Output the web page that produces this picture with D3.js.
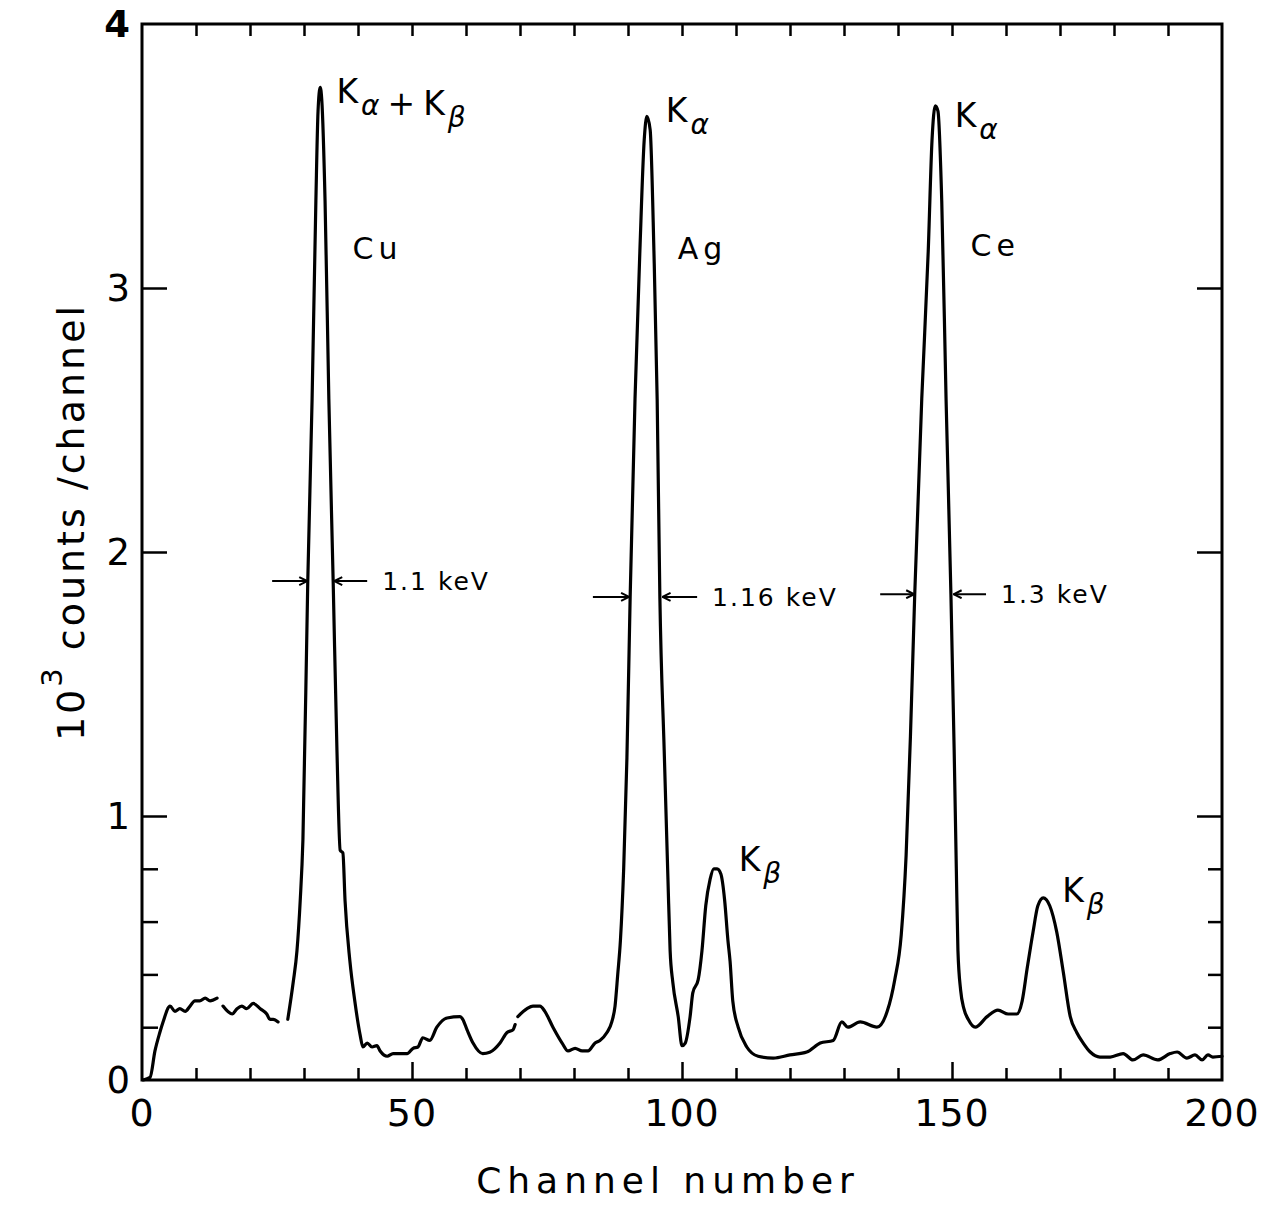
<!DOCTYPE html>
<html>
<head>
<meta charset="utf-8">
<script src="https://cdn.jsdelivr.net/npm/d3@7"></script>
<style>
  body { margin: 0; background: #fff; }
  svg text { font-family: "DejaVu Sans", sans-serif; fill: #000; }
</style>
</head>
<body>
<svg id="chart" width="1273" height="1205"></svg>
<script>
// spectrum trace, null = pen lifted on the original plot
const channel = [
  0.2, 1.5, 2.4, 3.3, 3.9, 5.2, 6.1, 7.0, 8.0, 8.9, 9.8, 10.7, 11.7, 12.6, 13.9,
  14.4,
  15.0, 16.7, 17.6, 18.5, 19.4, 20.6, 21.9, 23.1, 23.7, 24.3, 25.2,
  26.0,
  27.0, 28.0, 28.7, 29.3, 29.8, 30.7, 31.5, 32.2, 32.6, 33.0, 33.3, 33.9, 34.6, 35.4, 36.1,
  36.7, 37.2, 37.6, 38.5, 39.4, 40.4, 40.9, 41.7, 42.6, 43.5, 44.1, 45.4, 46.5, 49.1, 50.2,
  51.1, 52.0, 53.3, 54.6, 56.5, 58.9, 59.4, 60.2, 61.3, 63.1, 64.4, 66.3, 67.6, 68.7, 69.1,
  69.35,
  69.6, 71.3, 72.4, 73.7, 74.6, 76.1, 77.8, 78.9, 80.2, 81.5, 82.6, 83.9, 84.8, 86.1, 87.0,
  87.6, 88.1, 88.6, 89.2, 89.8, 90.4, 91.3, 92.2, 93.0, 93.5, 94.1, 94.8, 95.4, 95.9, 96.7, 97.4,
  97.8, 98.3, 99.3, 100.0, 100.6, 101.5, 102.0, 103.0, 103.7, 104.4, 105.2, 105.9, 106.5,
  107.2, 107.9, 108.5, 108.9, 109.4, 110.4, 112.0, 114.1, 116.9, 120.0, 123.1, 125.6, 128.0,
  129.6, 130.7, 133.0, 136.1, 138.0, 139.4, 140.6, 141.5, 142.3, 143.1, 144.4, 145.6, 146.3,
  146.9, 147.4, 148.1, 148.9, 149.8, 150.4, 150.8, 151.1, 151.6, 152.2, 153.0, 154.3, 156.5,
  158.5, 160.4, 162.0, 163.0, 163.9, 165.0, 165.9, 166.9, 168.1, 169.4, 170.6, 171.9, 173.1,
  174.3, 175.6, 177.4, 179.3, 181.7, 183.5, 185.4, 188.1, 190.4, 191.7, 193.5, 195.0, 196.3,
  197.4, 198.3, 200.0
];
// 10^3 counts per channel
const counts = [
  0.00, 0.01, 0.11, 0.18, 0.22, 0.28, 0.26, 0.27, 0.26, 0.28, 0.30, 0.30, 0.31, 0.30, 0.31,
  null,
  0.28, 0.25, 0.27, 0.28, 0.27, 0.29, 0.27, 0.25, 0.23, 0.23, 0.22,
  null,
  0.23, 0.37, 0.49, 0.68, 0.91, 1.89, 2.58, 3.33, 3.67, 3.76, 3.71, 3.33, 2.58, 1.89, 1.25,
  0.87, 0.86, 0.68, 0.45, 0.30, 0.17, 0.125, 0.14, 0.125, 0.13, 0.11, 0.09, 0.10, 0.10, 0.12,
  0.125, 0.16, 0.15, 0.20, 0.235, 0.24, 0.23, 0.19, 0.14, 0.10, 0.105, 0.14, 0.18, 0.19, 0.21,
  null,
  0.24, 0.27, 0.28, 0.28, 0.26, 0.20, 0.14, 0.11, 0.12, 0.11, 0.11, 0.14, 0.15, 0.18, 0.22,
  0.28, 0.40, 0.53, 0.80, 1.22, 1.83, 2.58, 3.14, 3.56, 3.65, 3.60, 3.14, 2.58, 1.83, 1.25, 0.76,
  0.49, 0.37, 0.24, 0.13, 0.14, 0.24, 0.33, 0.38, 0.49, 0.66, 0.76, 0.80, 0.80,
  0.78, 0.68, 0.53, 0.45, 0.30, 0.20, 0.125, 0.09, 0.083, 0.095, 0.106, 0.14, 0.15,
  0.22, 0.20, 0.22, 0.20, 0.26, 0.38, 0.55, 0.85, 1.30, 1.84, 2.58, 3.14, 3.56,
  3.69, 3.67, 3.33, 2.58, 1.84, 1.25, 0.80, 0.49, 0.34, 0.27, 0.23, 0.20, 0.24,
  0.265, 0.25, 0.25, 0.30, 0.42, 0.56, 0.66, 0.69, 0.66, 0.56, 0.41, 0.24, 0.18,
  0.14, 0.106, 0.087, 0.087, 0.10, 0.076, 0.095, 0.076, 0.10, 0.106, 0.083, 0.095, 0.076,
  0.095, 0.087, 0.09
];

const xTickLabels = [0, 50, 100, 150, 200];
const yTickLabels = [0, 1, 2, 3, 4];

// element names, at [channel, counts]
const elements = [
  {name: "Cu", ch: 43.6, v: 3.11},
  {name: "Ag", ch: 103.8, v: 3.11},
  {name: "Ce", ch: 158.0, v: 3.12}
];
// line labels: main, subscript pairs
const lineLabels = [
  {parts: [["K", "α"], ["+", null], ["K", "β"]], ch: 36.0, v: 3.70},
  {parts: [["K", "α"]], ch: 97.0, v: 3.63},
  {parts: [["K", "α"]], ch: 150.5, v: 3.61},
  {parts: [["K", "β"]], ch: 110.5, v: 0.79},
  {parts: [["K", "β"]], ch: 170.4, v: 0.675}
];
// FWHM markers: arrow tails/tips in channels, level, text
const fwhm = [
  {y: 1.89, l0: 24.1, l1: 30.6, r0: 41.7, r1: 35.6, text: "1.1 keV"},
  {y: 1.83, l0: 83.5, l1: 90.2, r0: 102.8, r1: 96.4, text: "1.16 keV"},
  {y: 1.84, l0: 136.7, l1: 143.0, r0: 156.3, r1: 150.3, text: "1.3 keV"}
];

const svg = d3.select("#chart");
const x = d3.scaleLinear().domain([0, 200]).range([142, 1222]);
const y = d3.scaleLinear().domain([0, 4]).range([1080, 24]);

// arrowhead
svg.append("defs").append("marker")
  .attr("id", "arr")
  .attr("viewBox", "0 0 10 10")
  .attr("refX", 9).attr("refY", 5)
  .attr("markerWidth", 10).attr("markerHeight", 10)
  .attr("markerUnits", "userSpaceOnUse")
  .attr("orient", "auto")
  .append("path")
  .attr("d", "M1,1 L9,5 L1,9")
  .attr("fill", "none")
  .attr("stroke", "#000")
  .attr("stroke-width", 2);

// ticks, all pointing inward
const minorX = d3.range(10, 200, 10);
const gBottom = svg.append("g").attr("transform", `translate(0,${y(0)})`)
  .call(d3.axisBottom(x).tickValues(minorX).tickSize(-12).tickFormat(""));
gBottom.selectAll(".tick line")
  .attr("y2", d => d % 50 === 0 ? -18 : -12);
svg.append("g").attr("transform", `translate(0,${y(4)})`)
  .call(d3.axisTop(x).tickValues(minorX).tickSize(-12).tickFormat(""));

const yMajor = [1, 2, 3];
const yMinor = [0.2, 0.4, 0.6, 0.8];
const gLeft = svg.append("g").attr("transform", `translate(${x(0)},0)`)
  .call(d3.axisLeft(y).tickValues(yMajor.concat(yMinor)).tickSize(-25).tickFormat(""));
gLeft.selectAll(".tick line").attr("x2", d => yMajor.includes(d) ? 25 : 16);
const gRight = svg.append("g").attr("transform", `translate(${x(200)},0)`)
  .call(d3.axisRight(y).tickValues(yMajor.concat(yMinor)).tickSize(-25).tickFormat(""));
gRight.selectAll(".tick line").attr("x2", d => yMajor.includes(d) ? -25 : -14);

svg.selectAll(".domain").remove();
svg.selectAll(".tick line").attr("stroke", "#000").attr("stroke-width", 2.5);

// frame
svg.append("rect")
  .attr("x", x(0)).attr("y", y(4))
  .attr("width", x(200) - x(0)).attr("height", y(0) - y(4))
  .attr("fill", "none").attr("stroke", "#000").attr("stroke-width", 3);

// tick labels
svg.append("g").selectAll("text").data(xTickLabels).join("text")
  .attr("x", d => x(d)).attr("y", y(0) + 46)
  .attr("text-anchor", "middle")
  .attr("font-size", 38)
  .attr("letter-spacing", 1)
  .text(d => d);
svg.append("g").selectAll("text").data(yTickLabels).join("text")
  .attr("x", x(0) - 12).attr("y", d => y(d) + 13)
  .attr("text-anchor", "end")
  .attr("font-size", 37)
  .attr("font-weight", d => d === 4 ? "bold" : "normal")
  .text(d => d);

// axis titles
svg.append("text")
  .attr("x", 668).attr("y", 1193)
  .attr("text-anchor", "middle")
  .attr("font-size", 36)
  .attr("letter-spacing", 6)
  .text("Channel  number");

const yt = svg.append("text")
  .attr("transform", "translate(84,522) rotate(-90)")
  .attr("text-anchor", "middle")
  .attr("font-size", 38)
  .attr("letter-spacing", 3);
yt.append("tspan").text("10");
yt.append("tspan").attr("dy", -22).attr("font-size", 29).text("3");
yt.append("tspan").attr("dy", 22).text("   counts /channel");

// spectrum
const line = d3.line()
  .defined(d => d[1] !== null)
  .x(d => x(d[0]))
  .y(d => y(d[1]))
  .curve(d3.curveMonotoneX);

svg.append("path")
  .datum(channel.map((c, i) => [c, counts[i]]))
  .attr("d", line)
  .attr("fill", "none")
  .attr("stroke", "#000")
  .attr("stroke-width", 3.2)
  .attr("stroke-linejoin", "round")
  .attr("stroke-linecap", "round");

// element names
svg.append("g").selectAll("text").data(elements).join("text")
  .attr("x", d => x(d.ch)).attr("y", d => y(d.v))
  .attr("text-anchor", "middle")
  .attr("font-size", 30)
  .attr("letter-spacing", 5)
  .text(d => d.name);

// line labels with greek subscripts
svg.append("g").selectAll("text").data(lineLabels).join("text")
  .attr("x", d => x(d.ch)).attr("y", d => y(d.v))
  .attr("font-size", 33)
  .each(function(d) {
    const t = d3.select(this);
    d.parts.forEach(([main, sub], i) => {
      t.append("tspan").attr("dx", i ? 8 : 0).attr("font-size", 33).text(main);
      if (sub) {
        t.append("tspan").attr("dx", 3).attr("dy", 12)
          .attr("font-size", 28).attr("font-style", "italic").text(sub);
        t.append("tspan").attr("dy", -12).text("");
      }
    });
  });

// FWHM arrows
const fw = svg.append("g").selectAll("g").data(fwhm).join("g");
fw.append("line")
  .attr("x1", d => x(d.l0)).attr("x2", d => x(d.l1))
  .attr("y1", d => y(d.y)).attr("y2", d => y(d.y));
fw.append("line")
  .attr("x1", d => x(d.r0)).attr("x2", d => x(d.r1))
  .attr("y1", d => y(d.y)).attr("y2", d => y(d.y));
fw.selectAll("line")
  .attr("stroke", "#000").attr("stroke-width", 2)
  .attr("marker-end", "url(#arr)");
fw.append("text")
  .attr("x", d => x(d.r0) + 15).attr("y", d => y(d.y) + 9)
  .attr("font-size", 25)
  .attr("letter-spacing", 2)
  .text(d => d.text);
</script>
</body>
</html>
